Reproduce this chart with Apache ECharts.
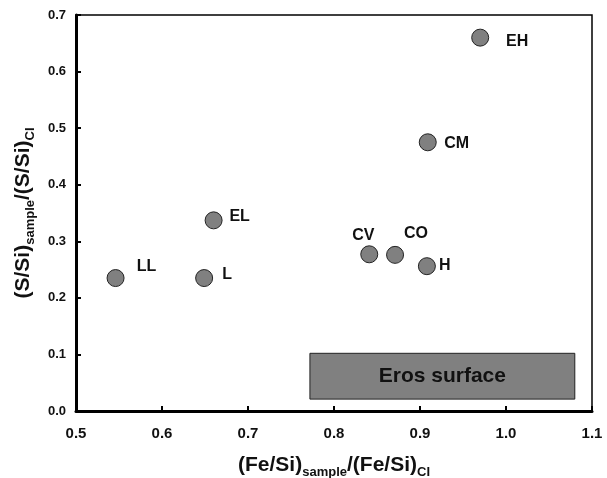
<!DOCTYPE html>
<html>
<head>
<meta charset="utf-8">
<script src="https://cdn.jsdelivr.net/npm/echarts@6/dist/echarts.min.js"></script>
<style>
  html, body { margin: 0; padding: 0; background: #fff; }
  #chart { width: 607px; height: 478px; }
</style>
</head>
<body>
<div id="chart"></div>
<script>
  // meteorite groups
  var groups = ["EH", "CM", "CV", "CO", "H", "EL", "LL", "L"];
  var feSi = [0.970, 0.909, 0.841, 0.871, 0.908, 0.660, 0.546, 0.649];
  var sSi = [0.660, 0.475, 0.277, 0.276, 0.256, 0.337, 0.235, 0.235];
  // eros surface box [x0, y0, x1, y1]
  var erosBox = [0.772, 0.021, 1.080, 0.102];

  // label placement (pixel offsets from marker centre)
  var labelOffset = {
    EH: [37, 4], CM: [29, 1], CV: [-6, -19], CO: [21, -21],
    H: [18, -1], EL: [26, -4], LL: [31, -11], L: [23, -3]
  };

  var pts = [];
  for (var i = 0; i < groups.length; i++) {
    pts.push({
      name: groups[i],
      value: [feSi[i], sSi[i]],
      label: { offset: labelOffset[groups[i]] }
    });
  }

  var font = "Arial, 'Liberation Sans', sans-serif";
  var nameRich = {
    a: { fontFamily: font, fontWeight: "bold", fontSize: 21, color: "#111", lineHeight: 26, verticalAlign: "bottom" },
    s: { fontFamily: font, fontWeight: "bold", fontSize: 13, color: "#111", lineHeight: 26, verticalAlign: "bottom", padding: [0, 0, -3, 0] }
  };

  var chart = echarts.init(document.getElementById("chart"));
  chart.setOption({
    animation: false,
    grid: {
      left: 76, right: 15, top: 15, bottom: 67,
      outerBoundsMode: "none", containLabel: false,
      show: true, borderColor: "#000", borderWidth: 1.5
    },
    xAxis: {
      type: "value", min: 0.5, max: 1.1, interval: 0.1,
      splitLine: { show: false },
      axisLine: { onZero: false, lineStyle: { color: "#000", width: 3 } },
      axisTick: { inside: true, length: 5, lineStyle: { color: "#000", width: 2 } },
      axisLabel: {
        margin: 15, color: "#111", fontFamily: font, fontWeight: "bold", fontSize: 15,
        formatter: function(v) { return v.toFixed(1); }
      },
      name: "{a|(Fe/Si)}{s|sample}{a|/(Fe/Si)}{s|CI}",
      nameLocation: "middle", nameGap: 39,
      nameTextStyle: { rich: nameRich }
    },
    yAxis: {
      type: "value", min: 0, max: 0.7, interval: 0.1,
      splitLine: { show: false },
      axisLine: { onZero: false, lineStyle: { color: "#000", width: 3 } },
      axisTick: { inside: true, length: 5, lineStyle: { color: "#000", width: 2 } },
      axisLabel: {
        margin: 10, color: "#111", fontFamily: font, fontWeight: "bold", fontSize: 13,
        formatter: function(v) { return v.toFixed(1); }
      },
      name: "{a|(S/Si)}{s|sample}{a|/(S/Si)}{s|CI}",
      nameLocation: "middle", nameGap: 35,
      nameTextStyle: { rich: nameRich }
    },
    series: [{
      type: "scatter",
      symbolSize: 17,
      itemStyle: { color: "#808080", borderColor: "#222", borderWidth: 1, opacity: 1 },
      label: {
        show: true, position: "inside", formatter: "{b}",
        fontFamily: font, fontWeight: "bold", fontSize: 16, color: "#111"
      },
      data: pts,
      markArea: {
        silent: true,
        itemStyle: { color: "#808080", borderColor: "#222", borderWidth: 1, opacity: 1 },
        label: {
          show: true, position: "inside",
          fontFamily: font, fontWeight: "bold", fontSize: 21, color: "#111"
        },
        data: [[
          { name: "Eros surface", coord: [erosBox[0], erosBox[1]] },
          { coord: [erosBox[2], erosBox[3]] }
        ]]
      }
    }]
  });
</script>
</body>
</html>
